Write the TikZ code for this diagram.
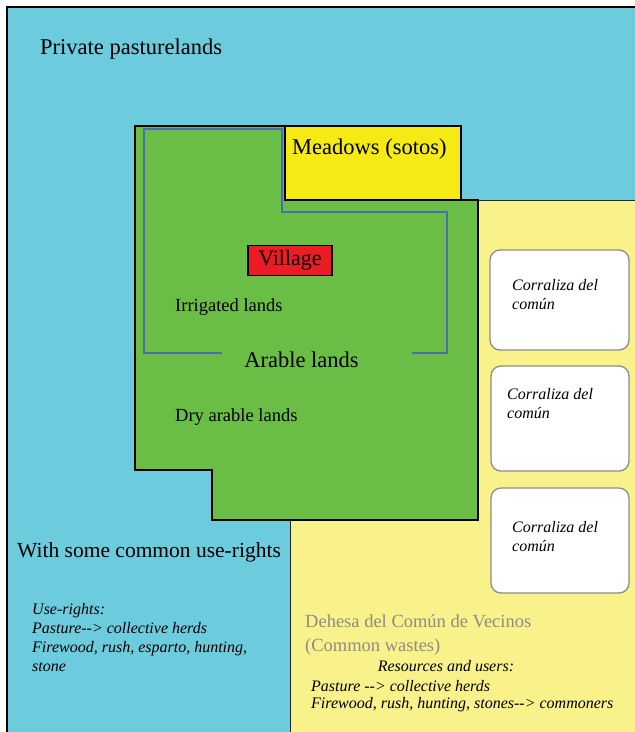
\documentclass[tikz,border=0pt]{standalone}
\usepackage{fontspec}
\setmainfont{Liberation Serif}
\definecolor{pasture}{RGB}{108,204,222}
\definecolor{arable}{RGB}{106,189,69}
\definecolor{meadow}{RGB}{245,234,20}
\definecolor{commonyel}{RGB}{249,241,138}
\definecolor{villagered}{RGB}{237,28,36}
\definecolor{irrline}{RGB}{75,109,176}
\definecolor{dehesagray}{RGB}{140,140,140}
\begin{document}
\begin{tikzpicture}[x=1pt,y=-1pt,
  lbl/.style={inner sep=0pt, anchor=west, font=\fontsize{22.5}{26}\selectfont},
  midlbl/.style={inner sep=0pt, anchor=west, font=\fontsize{18.5}{22}\selectfont},
  itl/.style={inner sep=0pt, anchor=west, font=\fontsize{16}{19}\selectfont\itshape},
  corral/.style={draw=black!45, line width=1.3pt, fill=white, rounded corners=10pt},
  border/.style={draw=black, line width=1.3pt}]
\useasboundingbox (0,0) rectangle (635,732);
% private pasturelands
\fill[pasture] (7,7) rectangle (645,745);
\draw[border] (7,745) -- (7,7) -- (645,7);
% common wastes (dehesa)
\filldraw[fill=commonyel, draw=black!85, line width=1pt]
  (478,200) -- (645,200) -- (645,745) -- (290,745) -- (290,520) -- (478,520) -- cycle;
% arable lands
\filldraw[fill=arable, border]
  (135,126) -- (285,126) -- (285,200) -- (478,200) -- (478,520) -- (212,520) -- (212,470) -- (135,470) -- cycle;
% meadows
\filldraw[fill=meadow, border] (285,126) rectangle (461,200);
% irrigated lands boundary
\draw[irrline, line width=1.1pt]
  (222,353) -- (144,353) -- (144,129) -- (282,129) -- (282,212) -- (447,212) -- (447,353) -- (412,353);
% village
\node[draw=black, line width=1.1pt, fill=villagered, minimum width=84pt, minimum height=30pt, inner sep=0pt,
  font=\fontsize{22}{24}\selectfont] (village) at (290,260.5) {Village};
% corralizas
\draw[corral] (490,250) rectangle (629,350);
\draw[corral] (491,366) rectangle (629,471);
\draw[corral] (491,488) rectangle (629,593);
\node[itl, align=left, anchor=north west] (c1) at (512,279) {Corraliza del\\común};
\node[itl, align=left, anchor=north west] (c2) at (507,388) {Corraliza del\\común};
\node[itl, align=left, anchor=north west] (c3) at (512,521) {Corraliza del\\común};
% labels
\node[lbl] (priv) at (40,49) {Private pasturelands};
\node[lbl] (mead) at (292,149) {Meadows (sotos)};
\node[midlbl] (irr) at (175,307) {Irrigated lands};
\node[lbl, anchor=center] (arab) at (301.5,360) {Arable lands};
\node[midlbl] (dry) at (175,417) {Dry arable lands};
\node[lbl, font=\fontsize{21.5}{24}\selectfont] (withsome) at (17,552) {With some common use-rights};
\node[itl, align=left, anchor=north west, font=\fontsize{16}{19}\selectfont\itshape] (userights) at (32,603)
  {Use-rights:\\Pasture-{}-> collective herds\\Firewood, rush, esparto, hunting,\\stone};
\node[midlbl, text=dehesagray, align=left, anchor=north west, font=\fontsize{18.5}{24}\selectfont] (dehesa) at (305,614)
  {Dehesa del Común de Vecinos\\(Common wastes)};
\node[itl, anchor=center] (res) at (446,666) {Resources and users:};
\node[itl] (past) at (311,686) {Pasture -{}-> collective herds};
\node[itl] (fire) at (311,705) {Firewood, rush, hunting, stones-{}-> commoners};
\end{tikzpicture}
\end{document}
